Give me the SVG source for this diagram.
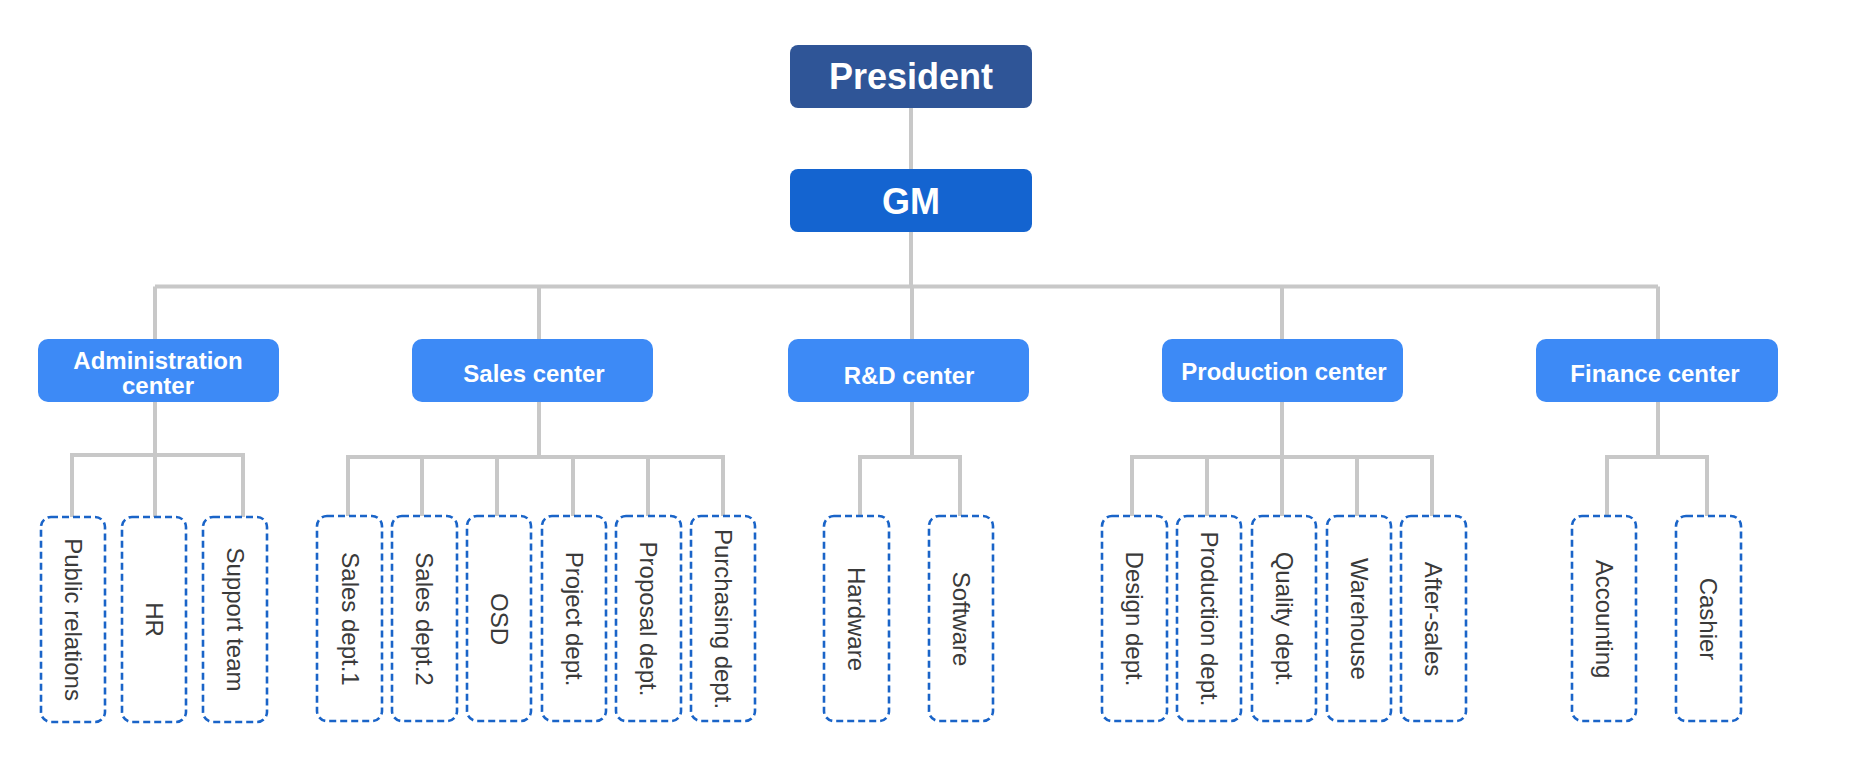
<svg xmlns="http://www.w3.org/2000/svg" width="1850" height="781" viewBox="0 0 1850 781">
<style>
.top{fill:#2F5597}
.gm{fill:#1464D0}
.ctr{fill:#3D8AF6}
.t1{font-family:"Liberation Sans",Arial,sans-serif;font-weight:bold;font-size:36px;fill:#fff;text-anchor:middle;dominant-baseline:central}
.t2{font-family:"Liberation Sans",Arial,sans-serif;font-weight:bold;font-size:24px;fill:#fff;text-anchor:middle;dominant-baseline:central}
.leaf{fill:#fff;stroke:#1A64C8;stroke-width:2.6;stroke-dasharray:7 4}
.t3{font-family:"Liberation Sans",Arial,sans-serif;font-size:24px;fill:#3a3a3a;text-anchor:middle;dominant-baseline:central}
.c{fill:none;stroke:#C8C8C8;stroke-width:4}
</style>
<rect width="1850" height="781" fill="#fff"/>
<g id="connectors">
<path class="c" d="M911 108V169M911 232V286.5M155 286.5H1658M155 286.5V339M539 286.5V339M912 286.5V339M1282 286.5V339M1658 286.5V339"/>
<path class="c" d="M155 402V455M72 517V455H243V517M155 455V517"/>
<path class="c" d="M539 402V457M348 516V457H723V516M422 457V516M497 457V516M573 457V516M648 457V516"/>
<path class="c" d="M912 402V457M860 516V457H960V516"/>
<path class="c" d="M1282 402V457M1132 516V457H1432V516M1207 457V516M1282 457V516M1357 457V516"/>
<path class="c" d="M1658 402V457M1607 516V457H1707V516"/>
</g>
<g id="president"><rect class="top" x="790" y="45" width="242" height="63" rx="8"/><text class="t1" x="911" y="76">President</text></g>
<g id="gm"><rect class="gm" x="790" y="169" width="242" height="63" rx="8"/><text class="t1" x="911" y="201">GM</text></g>
<g id="admin"><rect class="ctr" x="38" y="339" width="241" height="63" rx="10"/><text class="t2" x="158" y="360">Administration</text><text class="t2" x="158" y="385">center</text></g>
<g id="sales"><rect class="ctr" x="412" y="339" width="241" height="63" rx="10"/><text class="t2" x="534" y="373">Sales center</text></g>
<g id="rd"><rect class="ctr" x="788" y="339" width="241" height="63" rx="10"/><text class="t2" x="909" y="375">R&amp;D center</text></g>
<g id="production"><rect class="ctr" x="1162" y="339" width="241" height="63" rx="10"/><text class="t2" x="1284" y="371">Production center</text></g>
<g id="finance"><rect class="ctr" x="1536" y="339" width="242" height="63" rx="10"/><text class="t2" x="1655" y="373">Finance center</text></g>
<g id="public-relations"><rect class="leaf" x="41" y="517" width="64" height="205" rx="10"/><text class="t3" x="73" y="619.5" transform="rotate(90 73 619.5)">Public relations</text></g>
<g id="hr"><rect class="leaf" x="122" y="517" width="64" height="205" rx="10"/><text class="t3" x="154" y="619.5" transform="rotate(90 154 619.5)">HR</text></g>
<g id="support-team"><rect class="leaf" x="203" y="517" width="64" height="205" rx="10"/><text class="t3" x="235" y="619.5" transform="rotate(90 235 619.5)">Support team</text></g>
<g id="sales-1"><rect class="leaf" x="317" y="516" width="65" height="205" rx="10"/><text class="t3" x="350" y="619" transform="rotate(90 350 619)">Sales dept.1</text></g>
<g id="sales-2"><rect class="leaf" x="392" y="516" width="65" height="205" rx="10"/><text class="t3" x="424" y="619" transform="rotate(90 424 619)">Sales dept.2</text></g>
<g id="osd"><rect class="leaf" x="467" y="516" width="64" height="205" rx="10"/><text class="t3" x="499" y="619" transform="rotate(90 499 619)">OSD</text></g>
<g id="project"><rect class="leaf" x="542" y="516" width="64" height="205" rx="10"/><text class="t3" x="574" y="619" transform="rotate(90 574 619)">Project dept.</text></g>
<g id="proposal"><rect class="leaf" x="616" y="516" width="65" height="205" rx="10"/><text class="t3" x="648" y="619" transform="rotate(90 648 619)">Proposal dept.</text></g>
<g id="purchasing"><rect class="leaf" x="691" y="516" width="64" height="205" rx="10"/><text class="t3" x="723" y="619" transform="rotate(90 723 619)">Purchasing dept.</text></g>
<g id="hardware"><rect class="leaf" x="824" y="516" width="65" height="205" rx="10"/><text class="t3" x="856" y="619" transform="rotate(90 856 619)">Hardware</text></g>
<g id="software"><rect class="leaf" x="929" y="516" width="64" height="205" rx="10"/><text class="t3" x="961" y="619" transform="rotate(90 961 619)">Software</text></g>
<g id="design"><rect class="leaf" x="1102" y="516" width="65" height="205" rx="10"/><text class="t3" x="1134" y="619" transform="rotate(90 1134 619)">Design dept.</text></g>
<g id="production-dept"><rect class="leaf" x="1177" y="516" width="64" height="205" rx="10"/><text class="t3" x="1209" y="619" transform="rotate(90 1209 619)">Production dept.</text></g>
<g id="quality"><rect class="leaf" x="1252" y="516" width="64" height="205" rx="10"/><text class="t3" x="1284" y="619" transform="rotate(90 1284 619)">Quality dept.</text></g>
<g id="warehouse"><rect class="leaf" x="1327" y="516" width="64" height="205" rx="10"/><text class="t3" x="1359" y="619" transform="rotate(90 1359 619)">Warehouse</text></g>
<g id="after-sales"><rect class="leaf" x="1401" y="516" width="65" height="205" rx="10"/><text class="t3" x="1433" y="619" transform="rotate(90 1433 619)">After-sales</text></g>
<g id="accounting"><rect class="leaf" x="1572" y="516" width="64" height="205" rx="10"/><text class="t3" x="1604" y="619" transform="rotate(90 1604 619)">Accounting</text></g>
<g id="cashier"><rect class="leaf" x="1676" y="516" width="65" height="205" rx="10"/><text class="t3" x="1708" y="619" transform="rotate(90 1708 619)">Cashier</text></g>
</svg>
